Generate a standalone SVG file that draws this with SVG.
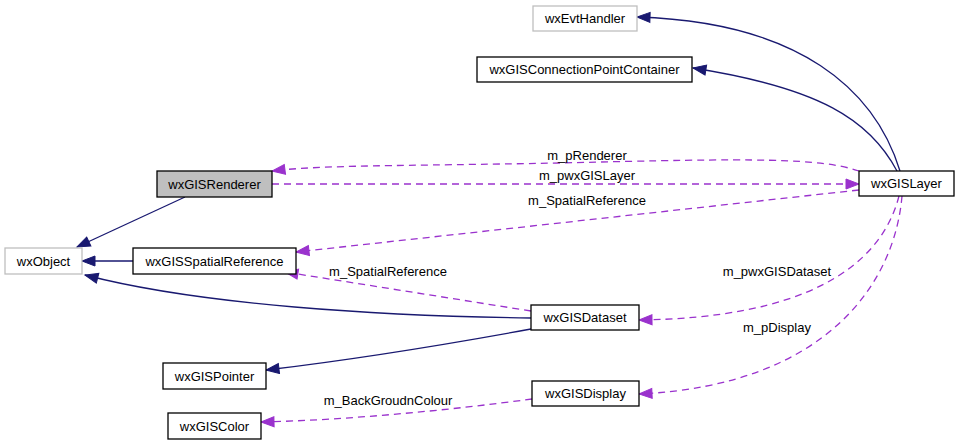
<svg xmlns="http://www.w3.org/2000/svg" width="960" height="445" viewBox="0 0 960 445">
<style>
text{font-family:"Liberation Sans",Arial,sans-serif;font-size:13px;fill:#000;text-anchor:middle}
.n rect{fill:#fff;stroke:#000;stroke-width:1.3}
.n.g rect{stroke:#bfbfbf}
.n.h rect{fill:#bfbfbf}
.e{fill:none;stroke:#191970;stroke-width:1.3}
.u{fill:none;stroke:#9a32cd;stroke-width:1.3;stroke-dasharray:7,5}
</style>
<defs>
<marker id="an" markerUnits="userSpaceOnUse" markerWidth="15" markerHeight="12" refX="13" refY="5" orient="auto" overflow="visible">
<path d="M0,0 L13,5 L0,10 z" fill="#191970" stroke="#191970" stroke-width="1"/>
</marker>
<marker id="ap" markerUnits="userSpaceOnUse" markerWidth="15" markerHeight="12" refX="13" refY="5" orient="auto" overflow="visible">
<path d="M0,0 L13,5 L0,10 z" fill="#9a32cd" stroke="#9a32cd" stroke-width="1" stroke-dasharray="none"/>
</marker>
</defs>
<g id="connectors">
<path class="e" marker-end="url(#an)" d="M900,171 C875,90 800,22 637,17"/>
<path class="e" marker-end="url(#an)" d="M897,171 C870,120 820,88 693,68"/>
<path class="e" marker-end="url(#an)" d="M185,197 L77,247"/>
<path class="e" marker-end="url(#an)" d="M133,261 L82,261"/>
<path class="e" marker-end="url(#an)" d="M531,318 C380,316 200,305 85,275"/>
<path class="e" marker-end="url(#an)" d="M531,329 C460,342 350,360 266,370"/>
<path class="u" marker-end="url(#ap)" d="M859,171 C820,158 760,158 560,163 C400,166 320,165 272,171"/>
<text x="587" y="160">m_pRenderer</text>
<path class="u" marker-end="url(#ap)" d="M272,184 L859,184"/>
<text x="587" y="180">m_pwxGISLayer</text>
<path class="u" marker-end="url(#ap)" d="M859,190 L296,252"/>
<text x="587" y="205">m_SpatialReference</text>
<path class="u" marker-end="url(#ap)" d="M531,311 L285,272"/>
<text x="388" y="276">m_SpatialReference</text>
<path class="u" marker-end="url(#ap)" d="M899,196 C880,270 800,318 639,320"/>
<text x="777" y="276">m_pwxGISDataset</text>
<path class="u" marker-end="url(#ap)" d="M902,196 C895,280 830,385 639,394"/>
<text x="777" y="332">m_pDisplay</text>
<path class="u" marker-end="url(#ap)" d="M532,399 C450,410 350,420 261,422"/>
<text x="388" y="405">m_BackGroudnColour</text>
</g>
<g id="wxGISRenderer" class="n h"><rect x="157" y="171" width="115" height="26"/><text x="214.5" y="188.5">wxGISRenderer</text></g>
<g id="wxEvtHandler" class="n g"><rect x="533" y="6" width="104" height="25"/><text x="585" y="23">wxEvtHandler</text></g>
<g id="wxGISConnectionPointContainer" class="n"><rect x="477" y="57" width="215" height="25"/><text x="584.5" y="74">wxGISConnectionPointContainer</text></g>
<g id="wxGISLayer" class="n"><rect x="859" y="171" width="95" height="25"/><text x="906.5" y="188">wxGISLayer</text></g>
<g id="wxObject" class="n g"><rect x="5" y="248" width="77" height="26"/><text x="43.5" y="265.5">wxObject</text></g>
<g id="wxGISSpatialReference" class="n"><rect x="133" y="248" width="163" height="26"/><text x="214.5" y="265.5">wxGISSpatialReference</text></g>
<g id="wxGISPointer" class="n"><rect x="163" y="363" width="103" height="26"/><text x="214.5" y="380.5">wxGISPointer</text></g>
<g id="wxGISColor" class="n"><rect x="168" y="413" width="93" height="26"/><text x="214.5" y="430.5">wxGISColor</text></g>
<g id="wxGISDataset" class="n"><rect x="531" y="305" width="108" height="25"/><text x="585" y="322">wxGISDataset</text></g>
<g id="wxGISDisplay" class="n"><rect x="532" y="381" width="107" height="25"/><text x="585.5" y="398">wxGISDisplay</text></g>
</svg>
